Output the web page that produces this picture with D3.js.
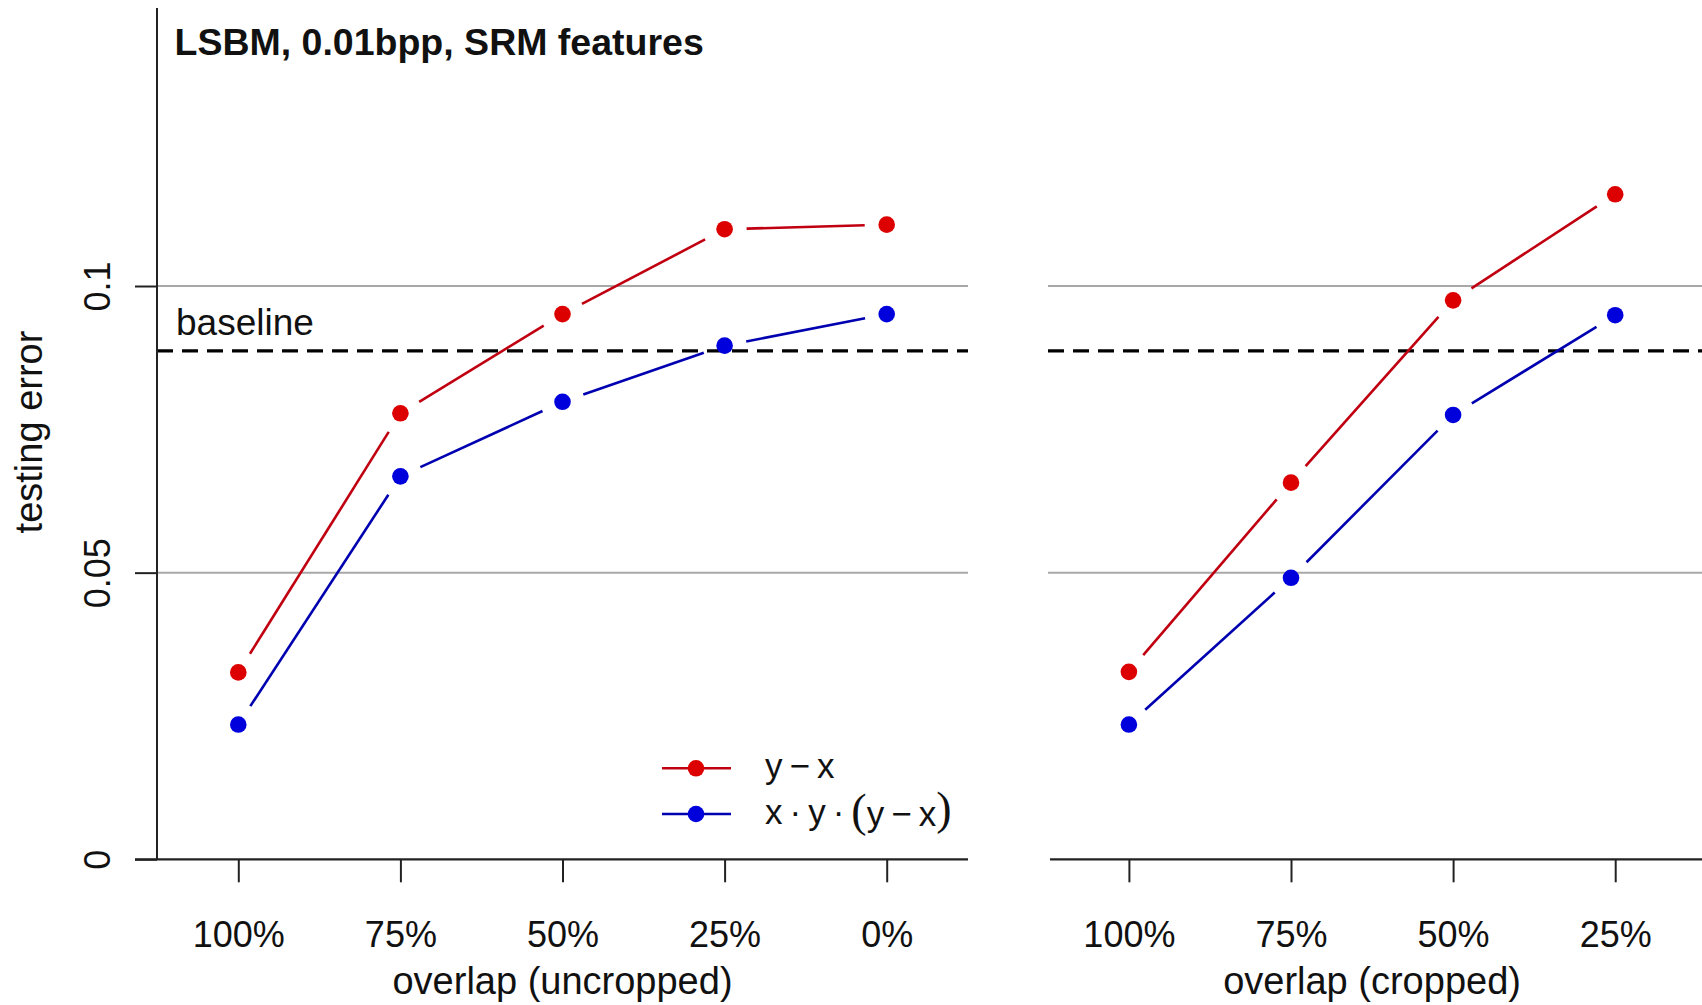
<!DOCTYPE html>
<html>
<head>
<meta charset="utf-8">
<script src="https://cdn.jsdelivr.net/npm/d3@7"></script>
<style>
  html, body { margin: 0; padding: 0; background: #fff; }
  svg { display: block; font-family: "Liberation Sans", Arial, sans-serif; }
</style>
</head>
<body>
<svg id="chart" width="1702" height="1005"></svg>
<script>
// Overlap levels for the two panels
const uncroppedLabels = ["100%", "75%", "50%", "25%", "0%"];
const croppedLabels = ["100%", "75%", "50%", "25%"];

// Testing error, feature y - x
const uncroppedYX = [0.0326, 0.0778, 0.0951, 0.1099, 0.1107];
const croppedYX = [0.0327, 0.0657, 0.0975, 0.1160];

// Testing error, feature x * y * (y - x)
const uncroppedXYYX = [0.0235, 0.0668, 0.0798, 0.0896, 0.0951];
const croppedXYYX = [0.0235, 0.0491, 0.0775, 0.0949];

// Baseline testing error and y ticks
const baselineError = 0.0887;
const yTicks = [0, 0.05, 0.1];

const seriesColors = { yx: { point: "#DC0000", line: "#C00010" }, xyyx: { point: "#0000DC", line: "#0000B0" } };

const svg = d3.select("#chart");
svg.append("rect").attr("width", 1702).attr("height", 1005).attr("fill", "#fff");

const y = d3.scaleLinear().domain([0, 0.1]).range([859.3, 286]);

const panels = [
  { labels: uncroppedLabels, yx: uncroppedYX, xyyx: uncroppedXYYX,
    range: [238.3, 886.7], axisSpan: [135, 968], gridSpan: [157, 968],
    title: "overlap (uncropped)" },
  { labels: croppedLabels, yx: croppedYX, xyyx: croppedXYYX,
    range: [1128.9, 1615.2], axisSpan: [1050, 1702], gridSpan: [1048, 1702],
    title: "overlap (cropped)" }
];

const GAP = 22;   // gap left around each point by the connecting lines
const R = 8.3;    // point radius

panels.forEach(p => {
  const x = d3.scalePoint().domain(p.labels).range(p.range);
  const g = svg.append("g");

  // horizontal reference lines
  g.selectAll("line.grid").data(yTicks.filter(t => t > 0)).join("line")
    .attr("class", "grid")
    .attr("x1", p.gridSpan[0]).attr("x2", p.gridSpan[1])
    .attr("y1", d => y(d)).attr("y2", d => y(d))
    .attr("stroke", "#a8a8a8").attr("stroke-width", 2);

  // baseline error
  g.append("line")
    .attr("x1", p.gridSpan[0]).attr("x2", p.gridSpan[1])
    .attr("y1", y(baselineError)).attr("y2", y(baselineError))
    .attr("stroke", "#000").attr("stroke-width", 3.2)
    .attr("stroke-dasharray", "16,9");

  // x axis
  g.append("line")
    .attr("x1", p.axisSpan[0]).attr("x2", p.axisSpan[1])
    .attr("y1", y(0)).attr("y2", y(0))
    .attr("stroke", "#222").attr("stroke-width", 2.2);

  const xAxis = g.append("g")
    .attr("transform", `translate(0,${y(0)})`)
    .call(d3.axisBottom(x).tickSize(23).tickSizeOuter(0).tickPadding(0));
  xAxis.select(".domain").remove();
  xAxis.selectAll(".tick line").attr("stroke", "#222").attr("stroke-width", 2);
  xAxis.selectAll(".tick text")
    .attr("y", 88).attr("dy", 0)
    .attr("font-size", 36).attr("fill", "#111")
    .attr("font-family", "Liberation Sans, Arial, sans-serif");

  g.append("text")
    .attr("x", (p.range[0] + p.range[1]) / 2).attr("y", 994)
    .attr("text-anchor", "middle").attr("font-size", 38).attr("fill", "#111")
    .text(p.title);

  // series: lines with gaps around the points, then the points
  [["yx", p.yx], ["xyyx", p.xyyx]].forEach(([key, vals]) => {
    const pts = vals.map((v, i) => [x(p.labels[i]), y(v)]);
    const segs = d3.pairs(pts).map(([a, b]) => {
      const dx = b[0] - a[0], dy = b[1] - a[1];
      const len = Math.hypot(dx, dy);
      const ux = dx / len, uy = dy / len;
      return [a[0] + ux * GAP, a[1] + uy * GAP, b[0] - ux * GAP, b[1] - uy * GAP];
    });
    g.selectAll(`line.seg-${key}`).data(segs).join("line")
      .attr("class", `seg-${key}`)
      .attr("x1", d => d[0]).attr("y1", d => d[1])
      .attr("x2", d => d[2]).attr("y2", d => d[3])
      .attr("stroke", seriesColors[key].line).attr("stroke-width", 2.6);
    g.selectAll(`circle.pt-${key}`).data(pts).join("circle")
      .attr("class", `pt-${key}`)
      .attr("cx", d => d[0]).attr("cy", d => d[1]).attr("r", R)
      .attr("fill", seriesColors[key].point);
  });
});

// y axis of the left panel
svg.append("line")
  .attr("x1", 157).attr("x2", 157).attr("y1", y(0)).attr("y2", 8)
  .attr("stroke", "#222").attr("stroke-width", 2);

const yAxis = svg.append("g")
  .attr("transform", "translate(157,0)")
  .call(d3.axisLeft(y).tickValues(yTicks).tickSize(22).tickSizeOuter(0)
    .tickFormat(d => d === 0 ? "0" : String(d)));
yAxis.select(".domain").remove();
yAxis.selectAll(".tick line").attr("stroke", "#222").attr("stroke-width", 2);
yAxis.selectAll(".tick text")
  .attr("transform", "rotate(-90)")
  .attr("x", 0).attr("y", -47).attr("dy", 0)
  .attr("text-anchor", "middle")
  .attr("font-size", 36).attr("fill", "#111")
  .attr("font-family", "Liberation Sans, Arial, sans-serif");

svg.append("text")
  .attr("transform", "translate(42,432) rotate(-90)")
  .attr("text-anchor", "middle").attr("font-size", 38).attr("fill", "#111")
  .text("testing error");

// panel heading and baseline label
svg.append("text")
  .attr("x", 174.5).attr("y", 55)
  .attr("font-size", 37.5).attr("font-weight", "bold").attr("fill", "#111")
  .text("LSBM, 0.01bpp, SRM features");

svg.append("text")
  .attr("x", 176).attr("y", 335)
  .attr("font-size", 37).attr("fill", "#111")
  .text("baseline");

// legend
const THIN = "\u2009";
const legendItems = [
  { key: "yx", parts: [["y" + THIN + "\u2212" + THIN + "x", null]] },
  { key: "xyyx", parts: [["x" + THIN + "\u00b7" + THIN + "y" + THIN + "\u00b7" + THIN, null], ["(", "serif"],
                         ["y" + THIN + "\u2212" + THIN + "x", null], [")", "serif"]] }
];
const legendY = [768.3, 814];
const legend = svg.append("g");
legendItems.forEach((item, i) => {
  const ly = legendY[i];
  legend.append("line")
    .attr("x1", 662).attr("x2", 731).attr("y1", ly).attr("y2", ly)
    .attr("stroke", seriesColors[item.key].line).attr("stroke-width", 2.6);
  legend.append("circle")
    .attr("cx", 696).attr("cy", ly).attr("r", R)
    .attr("fill", seriesColors[item.key].point);
  const t = legend.append("text")
    .attr("x", 765).attr("y", ly + 10)
    .attr("font-size", 35).attr("fill", "#111")
    .attr("xml:space", "preserve");
  item.parts.forEach(([s, fam]) => {
    const ts = t.append("tspan").text(s);
    if (fam) ts.attr("font-family", "Liberation Serif, Times New Roman, serif").attr("font-size", 46)
      .attr("dy", fam && s === "(" ? 2 : -2);
  });
});
</script>
</body>
</html>
